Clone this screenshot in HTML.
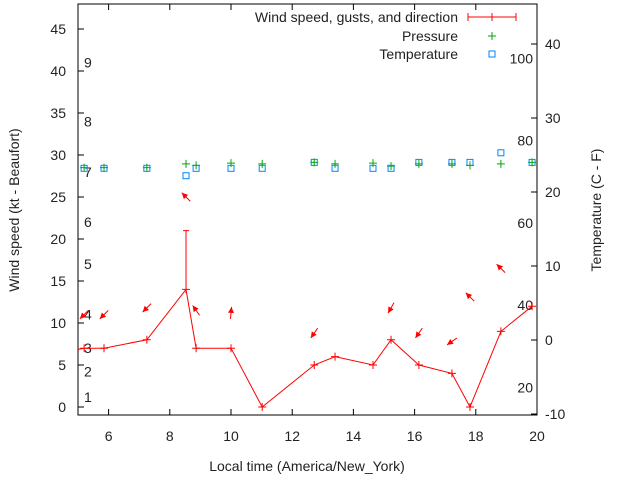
<!DOCTYPE html>
<html><head><meta charset="utf-8"><style>
body{margin:0;background:#fff}
svg text{font-family:"Liberation Sans",sans-serif;font-size:14px;fill:#222}
</style></head><body>
<svg id="c" width="640" height="480" xmlns="http://www.w3.org/2000/svg"></svg>
<script>
const times=[4.9,5.2,5.85,7.25,8.53,8.86,10.0,11.02,12.72,13.4,14.64,15.23,16.14,17.22,17.81,18.82,19.84];
const windKt=[6.8,7,7,8,14,7,7,0,5,6,5,8,5,4,0,9,12];
const gustKt=[null,null,null,null,21,null,null,null,null,null,null,null,null,null,null,null,null];
const arrowKt=[null,11,11,11.8,25,11.5,11.2,null,8.8,null,null,11.8,8.8,7.8,13.1,16.5];
const arrowDir=[null,45,45,45,135,145,185,null,35,null,null,30,35,55,135,135];
const tempC=[null,23.2,23.2,23.2,22.2,23.2,23.2,23.2,24.0,23.2,23.2,23.2,24.0,24.0,24.0,25.3,24.0];
const pressY=[null,23.3,23.3,23.3,23.8,23.6,23.9,23.8,24.0,23.8,23.9,23.5,23.8,23.8,23.6,23.8,24.0];
const xTicks=[6,8,10,12,14,16,18,20];
const yTicks=[0,5,10,15,20,25,30,35,40,45];
const y2Ticks=[-10,0,10,20,30,40];
const beaufort=[[1,1.2],[2,4.2],[3,7],[4,11],[5,17],[6,22],[7,28],[8,34],[9,41]];
const fahr=[20,40,60,80,100];
const L=78,R=537,T=4,B=415;
const X=h=>L+(h-5)/15*(R-L);
const Y=k=>407-k*8.4;
const Y2=c=>340-c*7.4;
const svg=document.getElementById('c');
const NS='http://www.w3.org/2000/svg';
function el(t,a,p){const e=document.createElementNS(NS,t);for(const k in a)e.setAttribute(k,a[k]);(p||svg).appendChild(e);return e;}
function txt(x,y,s,anchor,name){const e=el('text',{x:x,y:y,'text-anchor':anchor||'start'});e.textContent=s;

return e;}
el('defs',{}).innerHTML='<clipPath id="cp"><rect x="78" y="4" width="459" height="411"/></clipPath>';
const frame=el('rect',{x:L,y:T,width:R-L,height:B-T,fill:'none',stroke:'#000','stroke-width':1});


xTicks.forEach(h=>{const x=X(h);el('line',{x1:x,y1:B,x2:x,y2:B-6,stroke:'#000'});el('line',{x1:x,y1:T,x2:x,y2:T+6,stroke:'#000'});
txt(x,441,String(h),'middle','x-tick-label');});
yTicks.forEach(k=>{const y=Y(k);el('line',{x1:L,y1:y,x2:L+6,y2:y,stroke:'#000'});txt(66,y+5,String(k),'end','y-tick-label');});
y2Ticks.forEach(c=>{const y=Y2(c);el('line',{x1:R,y1:y,x2:R-6,y2:y,stroke:'#000'});txt(545,y+5,String(c),'start','y2-tick-label');});
beaufort.forEach(b=>txt(84,Y(b[1])+5,String(b[0]),'start','beaufort-label'));
fahr.forEach(f=>txt(533,Y2((f-32)/1.8)+3,String(f),'end','fahrenheit-label'));
txt(307,471,'Local time (America/New_York)','middle','x-axis-title');
const yl=txt(0,0,'Wind speed (kt - Beaufort)','middle','y-axis-title');yl.setAttribute('transform','translate(19,210) rotate(-90)');
const yr=txt(0,0,'Temperature (C - F)','middle','y2-axis-title');yr.setAttribute('transform','translate(601,210) rotate(-90)');
const g=el('g',{'clip-path':'url(#cp)'});
let pts=times.map((t,i)=>X(t)+','+Y(windKt[i])).join(' ');
const wl=el('polyline',{points:pts,fill:'none',stroke:'#f00','stroke-width':1},g);


times.forEach((t,i)=>{const x=X(t),y=Y(windKt[i]);
el('path',{d:`M${x-4} ${y}h8M${x} ${y-4}v8`,stroke:'#f00'},g);
if(gustKt[i]!=null){const gy=Y(gustKt[i]);el('path',{d:`M${x} ${y}V${gy}M${x-3} ${gy}h6`,stroke:'#f00'},g);}
if(arrowKt[i]!=null){const cx=x,cy=Y(arrowKt[i]),a=arrowDir[i]*Math.PI/180;
const dx=-Math.sin(a)*6,dy=Math.cos(a)*6;
const hx=cx+dx,hy=cy+dy,tx=cx-dx,ty=cy-dy;
const ux=dx/6,uy=dy/6;
const ar=el('g',{},g);


el('line',{x1:tx,y1:ty,x2:hx,y2:hy,stroke:'#f00'},ar);
el('polygon',{points:`${hx},${hy} ${hx-ux*6-uy*3},${hy-uy*6+ux*3} ${hx-ux*6+uy*3},${hy-uy*6-ux*3}`,fill:'#f00'},ar);}
if(pressY[i]!=null){const py=Y2(pressY[i]);const p=el('path',{d:`M${x-4} ${py}h8M${x} ${py-4}v8`,stroke:'#0a0'},g);

}
if(tempC[i]!=null){const ty2=Y2(tempC[i]);const r=el('rect',{x:x-3,y:ty2-3,width:6,height:6,fill:'none',stroke:'#08f'},g);

}
});
txt(458,22,'Wind speed, gusts, and direction','end','legend-wind');
el('path',{d:'M468 17h48M468 13v8M516 13v8M492 13v8',stroke:'#f00'});
txt(458,41,'Pressure','end','legend-pressure');
el('path',{d:'M488 36h8M492 32v8',stroke:'#0a0'});
txt(458,59,'Temperature','end','legend-temperature');
el('rect',{x:489,y:51,width:6,height:6,fill:'none',stroke:'#08f'});
</script>
</body></html>
